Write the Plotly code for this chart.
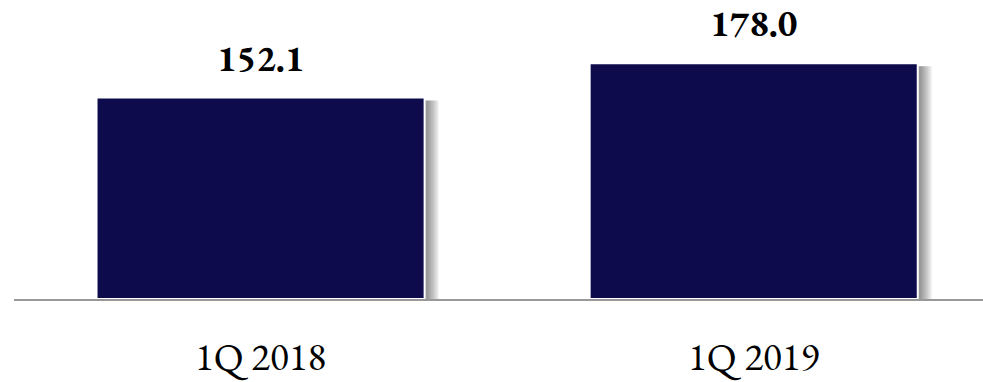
import plotly.graph_objects as go

categories = ["1Q 2018", "1Q 2019"]
values = [152.1, 178.0]
value_labels = ["152.1", "178.0"]

bar_color = "#0E0B4C"
font_family = "Garamond, 'EB Garamond', 'Liberation Serif', serif"

px = 1 / 493.0   # one pixel in x category units
py = 1 / 1.382   # one pixel in y value units
bar_w = 328 * px

fig = go.Figure()

# soft shadow layers on the right side of each bar
for k in [14, 12, 10, 8, 6, 4]:
    fig.add_trace(go.Bar(
        x=categories, y=[v - 3 * py for v in values],
        width=bar_w + k * px, offset=-bar_w / 2,
        marker=dict(color="rgba(0,0,0,0.08)", line=dict(width=0)),
        hoverinfo="skip", showlegend=False,
    ))

fig.add_trace(go.Bar(
    x=categories, y=values,
    width=bar_w, offset=-bar_w / 2,
    marker=dict(color=bar_color, line=dict(width=2, color="white")),
    showlegend=False,
))

for c, v, t in zip(categories, values, value_labels):
    fig.add_annotation(
        x=c, y=v, text=f"<b>{t}</b>", showarrow=False,
        yanchor="bottom", yshift=14,
        font=dict(family=font_family, size=37, color="#000000"),
    )

fig.update_layout(
    width=983, height=382,
    margin=dict(l=14, r=0, t=0, b=70),
    paper_bgcolor="white", plot_bgcolor="white",
    barmode="overlay",
    xaxis=dict(
        type="category", range=[-0.5, 1.465],
        showline=True, linewidth=2, linecolor="#999999",
        showgrid=False, ticks="", ticklabelstandoff=22,
        tickfont=dict(family=font_family, size=39, color="#000000"),
    ),
    yaxis=dict(
        range=[0, 225.8], visible=False, showgrid=False, zeroline=False,
    ),
)

fig.write_html("out.html")
